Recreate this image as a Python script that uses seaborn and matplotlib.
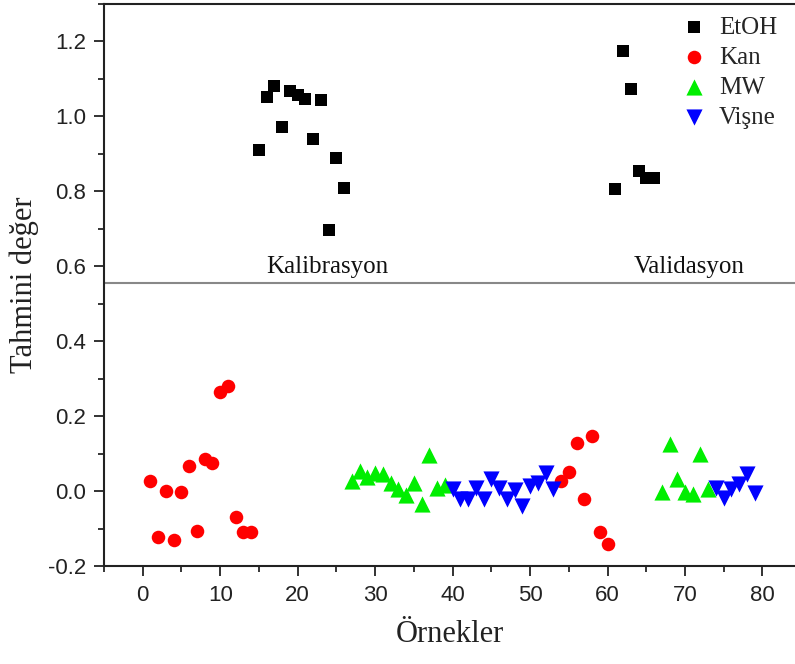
import matplotlib
matplotlib.use("Agg")
import matplotlib.pyplot as plt
import seaborn as sns
import pandas as pd
from matplotlib.ticker import MultipleLocator, FormatStrFormatter

# ---- data ----
kan_cal_x = [1, 2, 3, 4, 5, 6, 7, 8, 9, 10, 11, 12, 13, 14]
kan_cal_y = [0.027, -0.123, 0.0, -0.131, -0.003, 0.068, -0.107, 0.085, 0.076, 0.265, 0.280, -0.068, -0.108, -0.108]
etoh_cal_x = [15, 16, 17, 18, 19, 20, 21, 22, 23, 24, 25, 26]
etoh_cal_y = [0.909, 1.053, 1.082, 0.971, 1.069, 1.058, 1.046, 0.941, 1.043, 0.698, 0.890, 0.808]
mw_cal_x = [27, 28, 29, 30, 31, 32, 33, 34, 35, 36, 37, 38, 39]
mw_cal_y = [0.027, 0.053, 0.038, 0.047, 0.045, 0.022, 0.005, -0.011, 0.021, -0.034, 0.095, 0.009, 0.015]
visne_cal_x = [40, 41, 42, 43, 44, 45, 46, 47, 48, 49, 50, 51, 52, 53]
visne_cal_y = [0.005, -0.022, -0.020, 0.009, -0.022, 0.031, 0.009, -0.022, 0.002, -0.040, 0.013, 0.021, 0.049, 0.006]
kan_val_x = [54, 55, 56, 57, 58, 59, 60]
kan_val_y = [0.027, 0.051, 0.127, -0.020, 0.147, -0.109, -0.142]
etoh_val_x = [61, 62, 63, 64, 65, 66]
etoh_val_y = [0.806, 1.175, 1.074, 0.855, 0.836, 0.836]
mw_val_x = [67, 68, 69, 70, 71, 72, 73]
mw_val_y = [-0.003, 0.126, 0.031, -0.003, -0.007, 0.100, 0.006]
visne_val_x = [74, 75, 76, 77, 78, 79]
visne_val_y = [0.009, -0.018, 0.005, 0.018, 0.045, -0.004]

series_names = ["EtOH", "Kan", "MW", "Vişne"]
series_colors = ["#000000", "#ff0000", "#00ee00", "#0000ff"]
series_markers = ["s", "o", "^", "v"]
series_sizes = [85, 95, 135, 135]
divider_y = 0.555
region_labels = ["Kalibrasyon", "Validasyon"]
region_label_x = [23.8, 70.6]
region_label_y = 0.597
x_label = "Örnekler"
y_label = "Tahmini değer"

rows = []
for name, xs, ys in [("EtOH", etoh_cal_x + etoh_val_x, etoh_cal_y + etoh_val_y),
                     ("Kan", kan_cal_x + kan_val_x, kan_cal_y + kan_val_y),
                     ("MW", mw_cal_x + mw_val_x, mw_cal_y + mw_val_y),
                     ("Vişne", visne_cal_x + visne_val_x, visne_cal_y + visne_val_y)]:
    for xv, yv in zip(xs, ys):
        rows.append({"sample": xv, "value": yv, "group": name})
df = pd.DataFrame(rows)

sns.set_style("ticks")
plt.rcParams["axes.unicode_minus"] = False
serif = ["Liberation Serif", "DejaVu Serif"]
sans = ["Liberation Sans", "DejaVu Sans"]

fig = plt.figure(figsize=(7.95, 6.64), dpi=100)
ax = fig.add_axes([104 / 795, 1 - 566 / 664, 1 - 104 / 795, (566 - 4) / 664])

for name, col, mk, sz in zip(series_names, series_colors, series_markers, series_sizes):
    sns.scatterplot(data=df[df["group"] == name], x="sample", y="value",
                    color=col, marker=mk, s=sz, linewidth=0, ax=ax,
                    zorder=3, label=name)

ax.axhline(divider_y, color="#888888", lw=1.5, zorder=1)
for lab, lx in zip(region_labels, region_label_x):
    ax.text(lx, region_label_y, lab, ha="center", va="center",
            fontsize=18, family=serif, color="#111111")

ax.set_xlim(-5, 84.2)
ax.set_ylim(-0.2, 1.3)
ax.xaxis.set_major_locator(MultipleLocator(10))
ax.xaxis.set_minor_locator(MultipleLocator(5))
ax.yaxis.set_minor_locator(MultipleLocator(0.1))
ax.set_yticks([-0.2, 0.0, 0.2, 0.4, 0.6, 0.8, 1.0, 1.2])
ax.yaxis.set_major_formatter(FormatStrFormatter("%.1f"))

for side in ["left", "bottom", "top"]:
    ax.spines[side].set_linewidth(1.5)
    ax.spines[side].set_color("#222222")
ax.spines["right"].set_visible(False)

ax.tick_params(axis="both", which="major", direction="out", length=7, width=1.3,
               labelsize=16, colors="#222222", top=False, right=False)
ax.tick_params(axis="x", which="major", pad=7)
ax.tick_params(axis="y", which="major", pad=6)
ax.tick_params(axis="both", which="minor", direction="out", length=4, width=1.3,
               top=False, right=False)
for t in ax.get_xticklabels() + ax.get_yticklabels():
    t.set_family(sans)

ax.set_xlabel(x_label, fontsize=22, family=serif, labelpad=10, color="#222222")
ax.set_ylabel(y_label, fontsize=22, family=serif, labelpad=6, color="#222222")

handles, labels = ax.get_legend_handles_labels()
ax.legend(handles, labels, loc="upper right",
          bbox_to_anchor=(1.0 - 13 / 691, 1.0 - 7.5 / 562),
          frameon=False, prop={"family": serif, "size": 18},
          labelspacing=0.3, handletextpad=0.4, handlelength=1.2,
          markerscale=1.0, borderaxespad=0.0, borderpad=0.2)

fig.savefig("out.png", dpi=100)
